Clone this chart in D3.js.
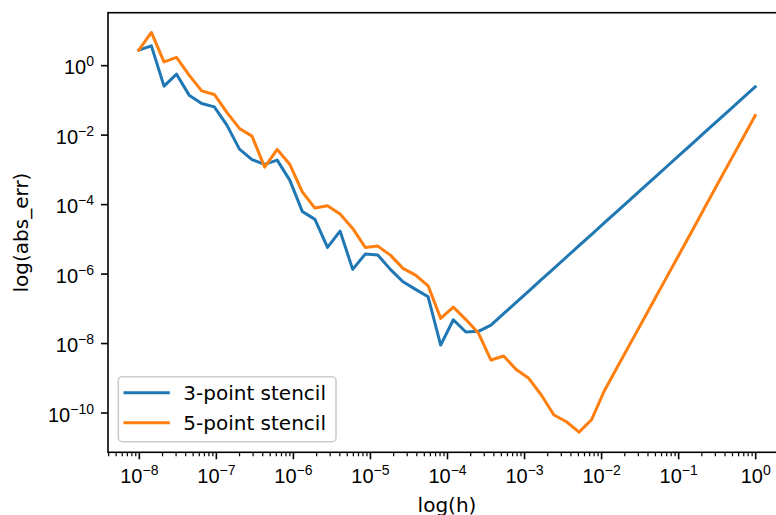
<!DOCTYPE html>
<html>
<head>
<meta charset="UTF-8">
<title>stencil error</title>
<script src="https://cdn.jsdelivr.net/npm/d3@7"></script>
<style>
  body { margin: 0; background: #fff; }
  svg { display: block; font-family: "DejaVu Sans", sans-serif; }
</style>
</head>
<body>
<script>
// log10(h), 50 step sizes from 1e-8 to 1
var hExp = [-8.000, -7.837, -7.673, -7.510, -7.347, -7.184, -7.020, -6.857, -6.694, -6.531,
            -6.367, -6.204, -6.041, -5.878, -5.714, -5.551, -5.388, -5.224, -5.061, -4.898,
            -4.735, -4.571, -4.408, -4.245, -4.082, -3.918, -3.755, -3.592, -3.429, -3.265,
            -3.102, -2.939, -2.776, -2.612, -2.449, -2.286, -2.122, -1.959, -1.796, -1.633,
            -1.469, -1.306, -1.143, -0.980, -0.816, -0.653, -0.490, -0.327, -0.163, 0.000];

// log10(abs_err)
var err3Exp = [0.432, 0.555, -0.604, -0.259, -0.863, -1.102, -1.200, -1.727, -2.417, -2.719,
               -2.858, -2.734, -3.309, -4.210, -4.440, -5.246, -4.777, -5.879, -5.439, -5.468,
               -5.879, -6.236, -6.455, -6.668, -8.058, -7.329, -7.683, -7.663, -7.482, -7.156,
               -6.829, -6.503, -6.176, -5.849, -5.523, -5.196, -4.870, -4.543, -4.217, -3.890,
               -3.563, -3.237, -2.910, -2.584, -2.257, -1.930, -1.604, -1.277, -0.951, -0.624];

var err5Exp = [0.432, 0.941, 0.095, 0.222, -0.288, -0.740, -0.843, -1.361, -1.822, -2.043,
               -2.935, -2.426, -2.855, -3.646, -4.115, -4.049, -4.288, -4.700, -5.246, -5.209,
               -5.468, -5.850, -6.043, -6.351, -7.289, -6.964, -7.324, -7.712, -8.489, -8.374,
               -8.763, -9.016, -9.496, -10.072, -10.265, -10.565, -10.200, -9.380, -8.720, -8.060,
               -7.400, -6.740, -6.080, -5.420, -4.760, -4.090, -3.430, -2.770, -2.110, -1.450];

var seriesNames = ["3-point stencil", "5-point stencil"];
var seriesColors = ["#1f77b4", "#ff7f0e"];

var xTickExp = [-8, -7, -6, -5, -4, -3, -2, -1, 0];
var yTickExp = [0, -2, -4, -6, -8, -10];

var width = 776,
    height = 515,
    plotLeft = 108, plotRight = 786,
    plotTop = 12.7, plotBottom = 452.3;

var x = d3.scaleLog()
    .domain([Math.pow(10, -8.4), Math.pow(10, 0.4)])
    .range([plotLeft, plotRight]);
var y = d3.scaleLog()
    .domain([Math.pow(10, -11.145), Math.pow(10, 1.51)])
    .range([plotBottom, plotTop]);

var svg = d3.select("body").append("svg")
    .attr("width", width)
    .attr("height", height);

// minor x ticks at 2..9 of each decade
var minorX = [];
for (var e = -9; e <= 0; e++) {
    for (var m = 2; m <= 9; m++) {
        var v = m * Math.pow(10, e);
        if (v > x.domain()[0] && v < x.domain()[1]) minorX.push(v);
    }
}

function supLabel(sel) {
    sel.each(function(d) {
        var t = d3.select(this).text(null);
        var ex = Math.round(Math.log10(d));
        t.append("tspan").text("10");
        t.append("tspan").attr("dy", -8).attr("font-size", 14)
            .text(ex < 0 ? "\u2212" + (-ex) : "" + ex);
    });
}

var gxm = svg.append("g")
    .attr("transform", "translate(0," + plotBottom + ")")
    .call(d3.axisBottom(x).tickValues(minorX).tickSize(4).tickFormat(""));
gxm.selectAll(".tick line").attr("stroke-width", 1.2);

var gx = svg.append("g")
    .attr("transform", "translate(0," + plotBottom + ")")
    .call(d3.axisBottom(x)
        .tickValues(xTickExp.map(function(e){ return Math.pow(10, e); }))
        .tickSize(7).tickPadding(7));
gx.selectAll(".tick text")
    .attr("y", 30.4).attr("dy", 0)
    .attr("font-size", 20).attr("fill", "#000")
    .call(supLabel);

var gy = svg.append("g")
    .attr("transform", "translate(" + plotLeft + ",0)")
    .call(d3.axisLeft(y)
        .tickValues(yTickExp.map(function(e){ return Math.pow(10, e); }))
        .tickSize(7).tickPadding(7));
gy.selectAll(".tick text")
    .attr("x", -14).attr("dy", 8.5)
    .attr("font-size", 20).attr("fill", "#000")
    .call(supLabel);

[gx, gxm, gy].forEach(function(g){
    g.select(".domain").remove();
    g.selectAll(".tick line").attr("stroke", "#000");
});
gx.selectAll(".tick line").attr("stroke-width", 1.6);
gy.selectAll(".tick line").attr("stroke-width", 1.6);

// lines
var data = hExp.map(function(e, i){
    return {h: Math.pow(10, e), v: [Math.pow(10, err3Exp[i]), Math.pow(10, err5Exp[i])]};
});

[0, 1].forEach(function(s){
    var line = d3.line()
        .x(function(d){ return x(d.h); })
        .y(function(d){ return y(d.v[s]); });
    svg.append("path")
        .datum(data)
        .attr("d", line)
        .attr("fill", "none")
        .attr("stroke", seriesColors[s])
        .attr("stroke-width", 3)
        .attr("stroke-linejoin", "round")
        .attr("stroke-linecap", "square");
});

// frame
svg.append("rect")
    .attr("x", plotLeft).attr("y", plotTop)
    .attr("width", plotRight - plotLeft).attr("height", plotBottom - plotTop)
    .attr("fill", "none").attr("stroke", "#000").attr("stroke-width", 1.6);

// legend
var lg = svg.append("g");
lg.append("rect")
    .attr("x", 118.3).attr("y", 376.7)
    .attr("width", 217.7).attr("height", 65)
    .attr("rx", 4)
    .attr("fill", "#fff").attr("fill-opacity", 0.8)
    .attr("stroke", "#cccccc").attr("stroke-width", 1.6);
seriesNames.forEach(function(name, i){
    var ly = 392.7 + i * 30;
    lg.append("line")
        .attr("x1", 125).attr("x2", 168.3)
        .attr("y1", ly).attr("y2", ly)
        .attr("stroke", seriesColors[i]).attr("stroke-width", 3)
        .attr("stroke-linecap", "square");
    lg.append("text")
        .attr("x", 183.3).attr("y", ly + 7)
        .attr("font-size", 20)
        .text(name);
});

// axis labels
svg.append("text")
    .attr("x", (plotLeft + plotRight) / 2).attr("y", 512)
    .attr("text-anchor", "middle")
    .attr("font-size", 20)
    .text("log(h)");

svg.append("text")
    .attr("transform", "translate(28.2," + (plotTop + plotBottom) / 2 + ") rotate(-90)")
    .attr("text-anchor", "middle")
    .attr("font-size", 20)
    .text("log(abs_err)");
</script>
</body>
</html>
